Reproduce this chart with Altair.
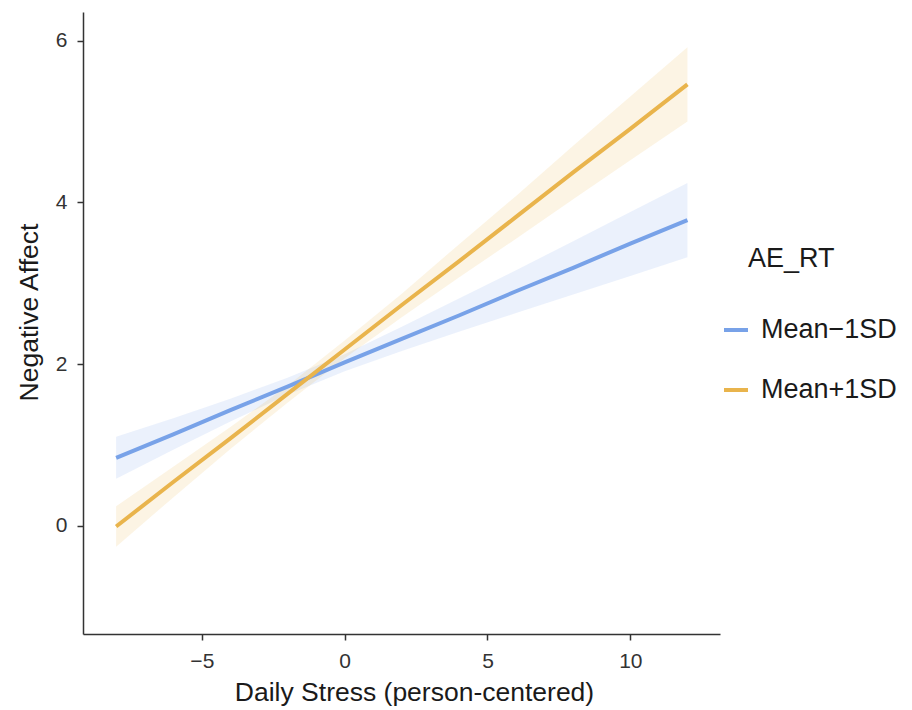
import altair as alt
import pandas as pd

# ---- data ----
x_grid = [-8, -6, -4, -2, 0, 2, 4, 6, 8, 10, 12]
groups = ["Mean\u22121SD", "Mean+1SD"]
legend_title = ["AE_RT"]

blue_fit = [0.84, 1.13, 1.43, 1.72, 2.02, 2.31, 2.60, 2.90, 3.19, 3.49, 3.78]
blue_lo = [0.58, 0.94, 1.29, 1.62, 1.91, 2.16, 2.40, 2.63, 2.86, 3.09, 3.32]
blue_hi = [1.10, 1.33, 1.57, 1.83, 2.12, 2.46, 2.81, 3.16, 3.52, 3.88, 4.24]

orange_fit = [-0.01, 0.54, 1.08, 1.63, 2.18, 2.73, 3.27, 3.82, 4.37, 4.91, 5.46]
orange_lo = [-0.26, 0.35, 0.95, 1.52, 2.07, 2.58, 3.07, 3.55, 4.04, 4.52, 5.00]
orange_hi = [0.24, 0.73, 1.22, 1.73, 2.29, 2.87, 3.48, 4.08, 4.70, 5.31, 5.92]

x_ticks = [-5, 0, 5, 10]
y_ticks = [0, 2, 4, 6]
colors = ["#78A2E8", "#E9B44C"]

rows = []
for g, fit, lo, hi in [(groups[0], blue_fit, blue_lo, blue_hi),
                       (groups[1], orange_fit, orange_lo, orange_hi)]:
    for xv, f, l, h in zip(x_grid, fit, lo, hi):
        rows.append({"stress": xv, "fit": f, "lo": l, "hi": h, "group": g})
df = pd.DataFrame(rows)

FONT = "Liberation Sans"

x_enc = alt.X(
    "stress:Q",
    scale=alt.Scale(domain=[-9.16, 13.14], nice=False, zero=False),
    axis=alt.Axis(values=x_ticks, title="Daily Stress (person-centered)",
                  titleX=331),
)
y_scale = alt.Scale(domain=[-1.34, 6.355], nice=False, zero=False)

# fill scale uses reversed domain order so its legend is not merged with the line legend
band = alt.Chart(df).mark_area(opacity=0.15).encode(
    x=x_enc,
    y=alt.Y("lo:Q", scale=y_scale,
            axis=alt.Axis(values=y_ticks, format="d", title="Negative Affect",
                          titleY=300)),
    y2="hi:Q",
    fill=alt.Fill("group:N",
                  scale=alt.Scale(domain=groups[::-1], range=colors[::-1]),
                  legend=None),
    detail="group:N",
)

line = alt.Chart(df).mark_line(strokeWidth=4).encode(
    x=x_enc,
    y=alt.Y("fit:Q", scale=y_scale),
    color=alt.Color(
        "group:N",
        scale=alt.Scale(domain=groups, range=colors),
        legend=alt.Legend(
            title=None,
            orient="none",
            legendX=639,
            legendY=304,
            symbolType="stroke",
            symbolSize=576,
            symbolStrokeWidth=4,
            labelFontSize=27,
            labelFont=FONT,
            labelColor="#1a1a1a",
            rowPadding=33,
            labelOffset=11,
            padding=0,
        ),
    ),
)

# legend title, indented as in the reference
title_text = alt.Chart(pd.DataFrame({"t": legend_title})).mark_text(
    align="left", baseline="alphabetic", fontSize=27, font=FONT, color="#1a1a1a"
).encode(text="t:N", x=alt.value(665), y=alt.value(255))

chart = (
    alt.layer(band, line, title_text)
    .properties(
        width=637,
        height=622,
        autosize=alt.AutoSizeParams(type="none"),
        padding={"left": 75, "top": 4, "right": 184, "bottom": 100},
    )
    .configure_view(stroke=None)
    .configure_axis(
        grid=False,
        domainColor="#333333",
        domainWidth=1.5,
        tickColor="#333333",
        tickWidth=1.5,
        tickSize=6,
        labelFont=FONT,
        titleFont=FONT,
        labelFontSize=21,
        titleFontSize=26.5,
        titleFontWeight="normal",
        labelColor="#333333",
        titleColor="#1a1a1a",
        labelPadding=10,
    )
    .configure_axisX(titlePadding=8)
    .configure_axisY(titlePadding=12)
)

chart.save("out.html", embed_options={"renderer": "svg", "actions": False})
